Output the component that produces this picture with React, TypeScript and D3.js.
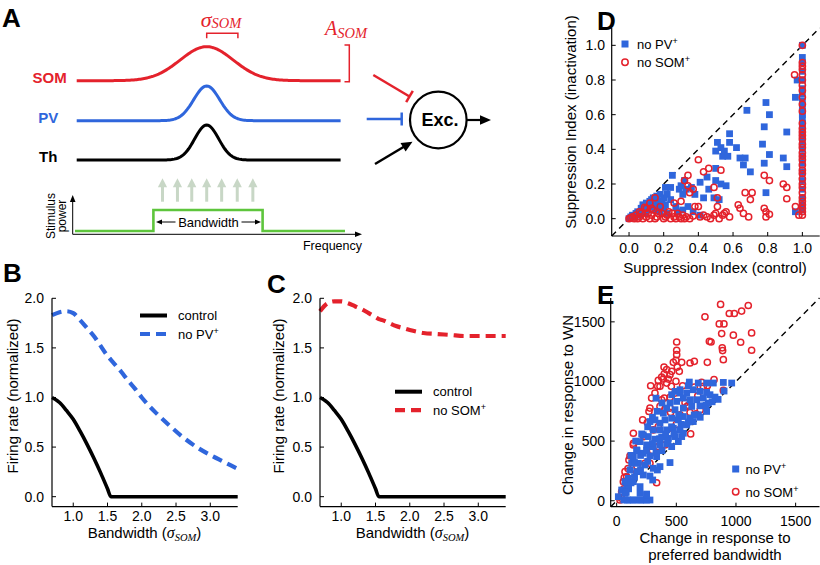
import React from 'react';
import * as d3 from 'd3';

const SANS = "'Liberation Sans', Arial, Helvetica, sans-serif";
const SERIF = "'Liberation Serif', 'DejaVu Serif', 'Times New Roman', serif";
const BLUE = '#2f66dc';
const RED = '#e4222c';
const GREEN = '#5ec53c';
const ARROW_GRAY = '#c8d7c6';

// ---------- Panels B & C ----------
const bandwidth = [0.69, 0.8, 0.9, 1.0, 1.1, 1.2, 1.3, 1.4, 1.5, 1.55, 1.6, 1.7, 1.8, 1.9, 2.0, 2.2, 2.4, 2.6, 2.8, 3.0, 3.2, 3.4];
const controlRate = [1.0, 0.95, 0.87, 0.78, 0.66, 0.53, 0.39, 0.24, 0.08, 0.0, 0, 0, 0, 0, 0, 0, 0, 0, 0, 0, 0, 0];
const noPVRate = [1.83, 1.86, 1.87, 1.85, 1.78, 1.7, 1.62, 1.52, 1.42, 1.38, 1.34, 1.26, 1.17, 1.09, 1.0, 0.85, 0.72, 0.6, 0.5, 0.42, 0.35, 0.28];
const noSOMRate = [1.87, 1.95, 1.97, 1.97, 1.95, 1.92, 1.89, 1.85, 1.81, 1.79, 1.78, 1.75, 1.72, 1.7, 1.68, 1.65, 1.64, 1.63, 1.62, 1.62, 1.62, 1.62];
const bcXTicks = [1.0, 1.5, 2.0, 2.5, 3.0];
const bcYTicks = [0.0, 0.5, 1.0, 1.5, 2.0];

// ---------- Panel D ----------
const dTicks = [0.0, 0.2, 0.4, 0.6, 0.8, 1.0];
const dNoPV: [number, number][] = [
  [0.0, 0.0], [0.01, 0.01], [0.02, 0.02], [0.03, 0.01], [0.04, 0.03], [0.05, 0.04], [0.06, 0.02], [0.07, 0.06], [0.08, 0.05], [0.08, 0.08],
  [0.09, 0.03], [0.1, 0.07], [0.1, 0.09], [0.11, 0.05], [0.12, 0.1], [0.12, 0.07], [0.13, 0.11], [0.14, 0.08], [0.14, 0.12], [0.15, 0.05],
  [0.16, 0.1], [0.16, 0.13], [0.17, 0.07], [0.18, 0.14], [0.18, 0.04], [0.19, 0.1], [0.2, 0.12], [0.2, 0.06], [0.21, 0.08], [0.22, 0.03],
  [0.21, 0.18], [0.22, 0.14], [0.24, 0.18], [0.24, 0.11], [0.25, 0.25], [0.27, 0.07], [0.28, 0.04], [0.29, 0.17], [0.3, 0.19], [0.31, 0.14],
  [0.31, 0.05], [0.32, 0.22], [0.33, 0.17], [0.34, 0.07], [0.36, 0.18], [0.37, 0.04], [0.38, 0.14], [0.41, 0.21], [0.41, 0.02], [0.43, 0.12],
  [0.45, 0.24], [0.46, 0.17], [0.49, 0.12], [0.5, 0.29], [0.5, 0.22], [0.5, 0.39], [0.51, 0.44], [0.52, 0.11], [0.53, 0.2], [0.53, 0.41],
  [0.54, 0.36], [0.55, 0.39], [0.56, 0.19], [0.57, 0.36], [0.58, 0.49], [0.58, 0.44], [0.62, 0.41], [0.64, 0.35], [0.66, 0.31], [0.67, 0.35],
  [0.68, 0.625], [0.7, 0.27], [0.77, 0.43], [0.78, 0.53], [0.78, 0.32], [0.79, 0.67], [0.79, 0.15], [0.81, 0.6], [0.81, 0.37], [0.89, 0.35],
  [0.91, 0.5], [0.91, 0.3], [0.96, 0.7], [0.96, 0.04], [0.97, 0.8],
  [1, 0.05], [1, 0.08], [1, 0.12], [1, 0.17], [1, 0.22], [1, 0.27], [1, 0.32], [1, 0.36], [1, 0.4], [1, 0.44], [1, 0.48], [1, 0.52],
  [1, 0.55], [1, 0.58], [1, 0.6], [1, 0.62], [1, 0.65], [1, 0.68], [1, 0.72], [1, 0.75], [1, 0.8], [1, 0.85], [1, 0.9], [1, 0.93], [1, 1.0],
];
const dNoSOM: [number, number][] = [
  [0.0, 0.0], [0.01, 0.005], [0.02, 0.01], [0.03, 0.0], [0.04, 0.02], [0.05, 0.0], [0.06, 0.01], [0.07, 0.03], [0.08, 0.0], [0.09, 0.065],
  [0.1, 0.01], [0.11, 0.03], [0.12, 0.0], [0.13, 0.02], [0.14, 0.05], [0.15, 0.12], [0.15, 0.0], [0.16, 0.01], [0.17, 0.03], [0.18, 0.07],
  [0.19, 0.03], [0.2, 0.0], [0.21, 0.01], [0.22, 0.02], [0.23, 0.04], [0.24, 0.0], [0.25, 0.03], [0.26, 0.01], [0.27, 0.0], [0.28, 0.03],
  [0.29, 0.01], [0.3, 0.0], [0.31, 0.02], [0.32, 0.0], [0.33, 0.01], [0.35, 0.0], [0.37, 0.015], [0.41, 0.01], [0.43, 0.02], [0.45, 0.01],
  [0.47, 0.0], [0.49, 0.02], [0.5, 0.03], [0.52, 0.0], [0.54, 0.02], [0.55, 0.03], [0.56, 0.04], [0.58, 0.01],
  [0.06, 0.04], [0.1, 0.06], [0.12, 0.09], [0.13, 0.06], [0.3, 0.1], [0.26, 0.09],
  [0.32, 0.22], [0.34, 0.25], [0.34, 0.19], [0.35, 0.15], [0.37, 0.17], [0.38, 0.07], [0.4, 0.07], [0.4, 0.34], [0.43, 0.27], [0.46, 0.29],
  [0.49, 0.18], [0.51, 0.12], [0.51, 0.07], [0.53, 0.28], [0.63, 0.08], [0.64, 0.06], [0.66, 0.03], [0.67, 0.15], [0.69, 0.01], [0.7, 0.11],
  [0.71, 0.15], [0.78, 0.25], [0.78, 0.06], [0.79, 0.04], [0.79, 0.01], [0.81, 0.22], [0.81, 0.025], [0.89, 0.2], [0.91, 0.18], [0.91, 0.115],
  [0.955, 0.83], [0.96, 0.07], [0.98, 0.02],
  [1, 0.02], [1, 0.04], [1, 0.06], [1, 0.08], [1, 0.1], [1, 0.12], [1, 0.15], [1, 0.18], [1, 0.2], [1, 0.23], [1, 0.26], [1, 0.28],
  [1, 0.31], [1, 0.34], [1, 0.36], [1, 0.38], [1, 0.41], [1, 0.43], [1, 0.46], [1, 0.48], [1, 0.5], [1, 0.52], [1, 0.55], [1, 0.62],
  [1, 0.66], [1, 0.7], [1, 0.74], [1, 0.77], [1, 0.8], [1, 0.83], [1, 0.86], [1, 0.88], [1, 0.9], [1, 1.0],
];

// ---------- Panel E ----------
const eTicks = [0, 500, 1000, 1500];
const eNoSOM: [number, number][] = [
  [871, 1646], [1103, 1637], [944, 1570], [986, 1570], [1047, 1590], [1131, 1407], [1131, 1262], [1039, 1329], [978, 1388], [880, 1402],
  [860, 1483], [899, 1483], [885, 1282], [888, 1259], [894, 1183], [740, 1542], [777, 1337], [791, 1331], [760, 1161], [651, 1169],
  [615, 1155], [503, 1331], [503, 1262], [503, 1225], [497, 1177], [475, 1161], [508, 1121], [545, 1161], [525, 1085], [461, 1085],
  [419, 1099], [399, 1065], [377, 1037], [349, 1009], [344, 959], [391, 1020], [433, 1020], [447, 1057], [397, 1121], [419, 987],
  [363, 959], [285, 964], [321, 903], [293, 861], [458, 959], [497, 1001], [553, 964], [489, 903], [447, 866], [399, 861],
  [363, 791], [405, 768], [447, 777], [279, 777], [271, 749], [257, 656], [218, 678], [573, 822], [587, 790], [615, 740],
  [665, 729], [651, 953], [712, 992], [816, 1015], [760, 964], [726, 959], [894, 925], [531, 721], [349, 622], [307, 594],
  [218, 552], [229, 538], [140, 566], [140, 482], [140, 468], [279, 460], [349, 454], [405, 468], [279, 314], [237, 314],
  [112, 376], [103, 342], [70, 244], [84, 202], [64, 193], [56, 160], [42, 76], [28, 6], [335, 151], [452, 740],
  [411, 819], [377, 847], [40, 20], [60, 100], [95, 270], [120, 230], [170, 290], [300, 420], [620, 560], [600, 800],
  [680, 880], [700, 760], [500, 640], [440, 560],
];
const eNoPV: [number, number][] = [
  [964, 987], [894, 992], [810, 987], [754, 987], [684, 987], [609, 995], [601, 964], [531, 931], [489, 917], [461, 889],
  [531, 903], [587, 903], [642, 931], [698, 917], [754, 908], [782, 889], [824, 869], [726, 861], [670, 847], [615, 847],
  [559, 861], [503, 833], [447, 819], [419, 777], [391, 735], [489, 763], [559, 777], [629, 791], [698, 796], [768, 819],
  [754, 749], [684, 721], [615, 692], [559, 706], [517, 678], [461, 692], [405, 678], [363, 650], [321, 678], [279, 664],
  [307, 594], [363, 594], [419, 594], [475, 608], [531, 594], [587, 636], [642, 664], [545, 538], [489, 538], [433, 524],
  [377, 533], [321, 516], [265, 538], [223, 552], [196, 496], [251, 468], [307, 454], [363, 468], [419, 477], [461, 454],
  [517, 496], [559, 566], [168, 426], [223, 398], [279, 376], [335, 370], [140, 370], [126, 314], [182, 314], [237, 300],
  [307, 272], [363, 286], [447, 320], [112, 258], [168, 244], [223, 216], [279, 207], [98, 188], [140, 160], [196, 118],
  [84, 118], [70, 62], [112, 6], [168, 6], [223, 6], [279, 6], [60, 6], [90, 6], [140, 6], [200, 6],
  [250, 6], [251, 48], [196, 62], [70, 160], [42, 90], [14, 34], [341, 258], [302, 174], [251, 56], [850, 850],
  [900, 920], [800, 830], [750, 800], [700, 700], [650, 720], [600, 660], [540, 640], [480, 560], [430, 500], [380, 420],
  [330, 400], [260, 330], [200, 260], [150, 200], [120, 150], [100, 100], [80, 70], [520, 720], [460, 620], [410, 560],
  [360, 520], [300, 480], [250, 420], [200, 380], [150, 320], [170, 420], [120, 380], [160, 500], [210, 560], [260, 620],
  [300, 700], [340, 750], [380, 820], [330, 860],
];

// ---------- Panel A schematic ----------
const schematicFreq = d3.range(-1, 1.031, 0.01);
const arrowFreqs = [-0.34, -0.225, -0.115, 0.0, 0.115, 0.235, 0.355];
const stimBand = [-0.41, 0.43];

function arrowHead(tx: number, ty: number, ang: number, len: number, hw: number) {
  const bx = tx - Math.cos(ang) * len;
  const by = ty - Math.sin(ang) * len;
  const px = -Math.sin(ang) * hw;
  const py = Math.cos(ang) * hw;
  return `${tx},${ty} ${bx + px},${by + py} ${bx - px},${by - py}`;
}

function Sup({ base, sup }: { base: string; sup: string }) {
  return (
    <>
      <tspan>{base}</tspan>
      <tspan dy={-5} fontSize={9}>{sup}</tspan>
    </>
  );
}

function RatePanel({ x0, dashed, dashColor, legendX, legendY, legendName, yLabelX }: any) {
  const x = d3.scaleLinear().domain([0.69, 3.4]).range([x0, x0 + 185.7]);
  const y = d3.scaleLinear().domain([-0.1, 2.0]).range([506.6, 298.3]);
  const line = d3.line<number>().x((_, i) => x(bandwidth[i])).y((d) => y(d)).curve(d3.curveMonotoneX);
  const [r0, r1] = x.range();
  const [b0, b1] = y.range();
  return (
    <g fontFamily={SANS}>
      <path d={line(dashed) || ''} fill="none" stroke={dashColor} strokeWidth={4.2} strokeDasharray="10,6" />
      <path d={line(controlRate) || ''} fill="none" stroke="#000" strokeWidth={3.6} strokeLinejoin="round" />
      <line x1={r0} x2={r0} y1={b0} y2={b1} stroke="#000" strokeWidth={1.2} />
      <line x1={r0} x2={r1} y1={b0} y2={b0} stroke="#000" strokeWidth={1.2} />
      {bcXTicks.map((t) => (
        <g key={'x' + t}>
          <line x1={x(t)} x2={x(t)} y1={b0} y2={b0 - 4} stroke="#000" />
          <text x={x(t)} y={521} textAnchor="middle" fontSize={14}>{t.toFixed(1)}</text>
        </g>
      ))}
      {bcYTicks.map((t) => (
        <g key={'y' + t}>
          <line x1={r0} x2={r0 + 4} y1={y(t)} y2={y(t)} stroke="#000" />
          <text x={r0 - 8} y={y(t) + 5} textAnchor="end" fontSize={14}>{t.toFixed(1)}</text>
        </g>
      ))}
      <text x={x0 + 92.5} y={538} textAnchor="middle" fontSize={15}>
        <tspan>Bandwidth (</tspan>
        <tspan fontFamily={SERIF} fontStyle="italic" fontSize={16}>σ</tspan>
        <tspan fontFamily={SERIF} fontStyle="italic" fontSize={10.5} dy={3}>SOM</tspan>
        <tspan dy={-3}>)</tspan>
      </text>
      <text transform={`translate(${yLabelX},396) rotate(-90)`} textAnchor="middle" fontSize={15}>
        Firing rate (normalized)
      </text>
      <line x1={legendX} x2={legendX + 27} y1={legendY} y2={legendY} stroke="#000" strokeWidth={4} />
      <text x={legendX + 38} y={legendY + 4.5} fontSize={13}>control</text>
      <line x1={legendX} x2={legendX + 27} y1={legendY + 18.5} y2={legendY + 18.5} stroke={dashColor} strokeWidth={4.2} strokeDasharray="10,6" />
      <text x={legendX + 38} y={legendY + 23} fontSize={13}>
        <Sup base={legendName} sup="+" />
      </text>
    </g>
  );
}

export default function App() {
  // Panel A scales
  const xF = d3.scaleLinear().domain([-1, 1]).range([76.7, 336.7]);
  const curve = (base: number, amp: number, sigma: number) =>
    d3.line<number>().x((f) => xF(f)).y((f) => base - amp * Math.exp(-(f * f) / (2 * sigma * sigma)))(schematicFreq) || '';

  // Panel D scales
  const xD = d3.scaleLinear().domain([-0.1, 1.1]).range([611.7, 819.7]);
  const yD = d3.scaleLinear().domain([-0.1, 1.1]).range([236, 28]);
  // Panel E scales
  const xE = d3.scaleLinear().domain([-50, 1700]).range([610.7, 819.5]);
  const yE = d3.scaleLinear().domain([-50, 1700]).range([506.7, 298]);

  const sq = 6.8;
  const cr = 3.1;

  const redAng = Math.atan2(96.5 - 75, 409.5 - 373.3);
  const exAng = Math.atan2(142 - 164, 412 - 375);

  return (
    <svg width={820} height={565} style={{ position: 'fixed', left: 0, top: 0, background: '#fff' }} fontFamily={SANS}>
      <rect width={820} height={565} fill="#fff" />
      {/* Panel letters */}
      <g fontWeight="bold" fontSize={26}>
        <text x={2} y={27}>A</text>
        <text x={3} y={282}>B</text>
        <text x={267} y={293}>C</text>
        <text x={597} y={30}>D</text>
        <text x={597} y={304}>E</text>
      </g>

      {/* ---------- Panel A ---------- */}
      <g>
        <path d={curve(80.7, 34, 0.205)} fill="none" stroke={RED} strokeWidth={3} />
        <path d={curve(120.7, 34.7, 0.1)} fill="none" stroke={BLUE} strokeWidth={3} />
        <path d={curve(160, 35, 0.092)} fill="none" stroke="#000" strokeWidth={3} />
        <g fontWeight="bold" fontSize={15} textAnchor="end">
          <text x={66.7} y={83.3} fill={RED}>SOM</text>
          <text x={58.3} y={122.7} fill={BLUE}>PV</text>
          <text x={57.3} y={161.7} fill="#000">Th</text>
        </g>
        {/* sigma label */}
        <text x={221} y={27} textAnchor="middle" fill={RED} fontFamily={SERIF} fontStyle="italic">
          <tspan fontSize={22}>σ</tspan>
          <tspan fontSize={14.5} dy={1}>SOM</tspan>
        </text>
        <path d={`M${xF(0)},38.3 V33.3 H${xF(0.24)} V38.3`} fill="none" stroke={RED} strokeWidth={1.5} />
        {/* A_SOM label */}
        <text x={325} y={35} fill={RED} fontFamily={SERIF} fontStyle="italic">
          <tspan fontSize={20}>A</tspan>
          <tspan fontSize={14.5} dy={3}>SOM</tspan>
        </text>
        <path d="M344.5,45 H349.3 V81.7 H344.5" fill="none" stroke={RED} strokeWidth={1.5} />

        {/* gray arrows */}
        {arrowFreqs.map((f) => (
          <g key={f}>
            <line x1={xF(f)} x2={xF(f)} y1={201.7} y2={186} stroke={ARROW_GRAY} strokeWidth={3} />
            <polygon points={arrowHead(xF(f), 178.3, -Math.PI / 2, 9, 4.6)} fill={ARROW_GRAY} />
          </g>
        ))}

        {/* stimulus axes */}
        <line x1={72.7} x2={72.7} y1={234.3} y2={200} stroke="#000" strokeWidth={1} />
        <polygon points={arrowHead(72.7, 195, -Math.PI / 2, 7, 2.8)} fill="#000" />
        <line x1={72.7} x2={356} y1={234.3} y2={234.3} stroke="#000" strokeWidth={1} />
        <polygon points={arrowHead(362, 234.3, 0, 7, 2.8)} fill="#000" />
        <path
          d={`M75,231 H${xF(stimBand[0])} V210 H${xF(stimBand[1])} V231 H345`}
          fill="none"
          stroke={GREEN}
          strokeWidth={2.6}
        />
        <text x={208.5} y={227} textAnchor="middle" fontSize={13}>Bandwidth</text>
        <line x1={175.5} x2={161} y1={222} y2={222} stroke="#000" strokeWidth={1} />
        <polygon points={arrowHead(156, 222, Math.PI, 6, 2.6)} fill="#000" />
        <line x1={241.5} x2={256} y1={222} y2={222} stroke="#000" strokeWidth={1} />
        <polygon points={arrowHead(261, 222, 0, 6, 2.6)} fill="#000" />
        <text transform="translate(55,216) rotate(-90)" textAnchor="middle" fontSize={12}>Stimulus</text>
        <text transform="translate(66,216) rotate(-90)" textAnchor="middle" fontSize={12}>power</text>
        <text x={362} y={249.5} textAnchor="end" fontSize={12.5}>Frequency</text>

        {/* circuit */}
        <line x1={373.3} y1={75} x2={409.5} y2={96.5} stroke={RED} strokeWidth={2.5} />
        <line
          x1={409.5 + Math.sin(redAng) * 6.5}
          y1={96.5 - Math.cos(redAng) * 6.5}
          x2={409.5 - Math.sin(redAng) * 6.5}
          y2={96.5 + Math.cos(redAng) * 6.5}
          stroke={RED}
          strokeWidth={2.5}
        />
        <line x1={366.7} y1={119} x2={401.7} y2={119} stroke={BLUE} strokeWidth={2.5} />
        <line x1={401.7} y1={112.5} x2={401.7} y2={125.5} stroke={BLUE} strokeWidth={2.5} />
        <line x1={375} y1={164} x2={406} y2={145.5} stroke="#000" strokeWidth={2.5} />
        <polygon points={arrowHead(412.5, 141.7, exAng, 11, 5)} fill="#000" />
        <circle cx={438.3} cy={120} r={28.3} fill="none" stroke="#000" strokeWidth={2.2} />
        <text x={440} y={126.3} textAnchor="middle" fontWeight="bold" fontSize={18}>Exc.</text>
        <line x1={466.6} y1={120} x2={481} y2={120} stroke="#000" strokeWidth={2.2} />
        <polygon points={arrowHead(491, 120, 0, 11, 4.8)} fill="#000" />
      </g>

      {/* ---------- Panels B & C ---------- */}
      <RatePanel x0={52} dashed={noPVRate} dashColor={BLUE} legendX={140} legendY={315.5} legendName="no PV" yLabelX={17.5} />
      <RatePanel x0={320} dashed={noSOMRate} dashColor={RED} legendX={395} legendY={391.7} legendName="no SOM" yLabelX={284} />

      {/* ---------- Panel D ---------- */}
      <g>
        <line x1={xD(-0.1)} y1={yD(-0.1)} x2={xD(1.1)} y2={yD(1.1)} stroke="#000" strokeWidth={1.4} strokeDasharray="6,4.5" />
        {dNoPV.map(([a, b], i) => (
          <rect key={'dp' + i} x={xD(a) - sq / 2} y={yD(b) - sq / 2} width={sq} height={sq} fill={BLUE} />
        ))}
        {dNoSOM.map(([a, b], i) => (
          <circle key={'ds' + i} cx={xD(a)} cy={yD(b)} r={cr} fill="none" stroke={RED} strokeWidth={1.5} />
        ))}
        <line x1={611.7} x2={611.7} y1={236} y2={28} stroke="#000" strokeWidth={1.2} />
        <line x1={611.7} x2={819.7} y1={236} y2={236} stroke="#000" strokeWidth={1.2} />
        {dTicks.map((t) => (
          <g key={'dt' + t}>
            <line x1={xD(t)} x2={xD(t)} y1={236} y2={232} stroke="#000" />
            <line x1={611.7} x2={615.7} y1={yD(t)} y2={yD(t)} stroke="#000" />
            <text x={xD(t)} y={253} textAnchor="middle" fontSize={14}>{t.toFixed(1)}</text>
            <text x={605} y={yD(t) + 5} textAnchor="end" fontSize={14}>{t.toFixed(1)}</text>
          </g>
        ))}
        <text x={715} y={273} textAnchor="middle" fontSize={15}>Suppression Index (control)</text>
        <text transform="translate(576,122) rotate(-90)" textAnchor="middle" fontSize={15}>Suppression Index (inactivation)</text>
        <rect x={625 - 3.5} y={44 - 3.5} width={7} height={7} fill={BLUE} />
        <text x={637} y={49} fontSize={13}><Sup base="no PV" sup="+" /></text>
        <circle cx={625} cy={62.3} r={3.2} fill="none" stroke={RED} strokeWidth={1.5} />
        <text x={637} y={67} fontSize={13}><Sup base="no SOM" sup="+" /></text>
      </g>

      {/* ---------- Panel E ---------- */}
      <g>
        <line x1={xE(-50)} y1={yE(-50)} x2={xE(1700)} y2={yE(1700)} stroke="#000" strokeWidth={1.4} strokeDasharray="6,4.5" />
        {eNoSOM.map(([a, b], i) => (
          <circle key={'es' + i} cx={xE(a)} cy={yE(b)} r={cr} fill="none" stroke={RED} strokeWidth={1.5} />
        ))}
        {eNoPV.map(([a, b], i) => (
          <rect key={'ep' + i} x={xE(a) - sq / 2} y={yE(b) - sq / 2} width={sq} height={sq} fill={BLUE} />
        ))}
        <line x1={610.7} x2={610.7} y1={506.7} y2={298} stroke="#000" strokeWidth={1.2} />
        <line x1={610.7} x2={819.5} y1={506.7} y2={506.7} stroke="#000" strokeWidth={1.2} />
        {eTicks.map((t) => (
          <g key={'et' + t}>
            <line x1={xE(t)} x2={xE(t)} y1={506.7} y2={502.7} stroke="#000" />
            <line x1={610.7} x2={614.7} y1={yE(t)} y2={yE(t)} stroke="#000" />
            <text x={xE(t)} y={526} textAnchor="middle" fontSize={14}>{t}</text>
            <text x={605} y={yE(t) + 5} textAnchor="end" fontSize={14}>{t}</text>
          </g>
        ))}
        <text x={715} y={543} textAnchor="middle" fontSize={15}>Change in response to</text>
        <text x={715} y={560} textAnchor="middle" fontSize={15}>preferred bandwidth</text>
        <text transform="translate(573,405) rotate(-90)" textAnchor="middle" fontSize={15}>Change in response to WN</text>
        <rect x={735.7 - 3.5} y={469 - 3.5} width={7} height={7} fill={BLUE} />
        <text x={745.5} y={474} fontSize={13}><Sup base="no PV" sup="+" /></text>
        <circle cx={735.7} cy={491.7} r={3.2} fill="none" stroke={RED} strokeWidth={1.5} />
        <text x={745.5} y={496.5} fontSize={13}><Sup base="no SOM" sup="+" /></text>
      </g>
    </svg>
  );
}
